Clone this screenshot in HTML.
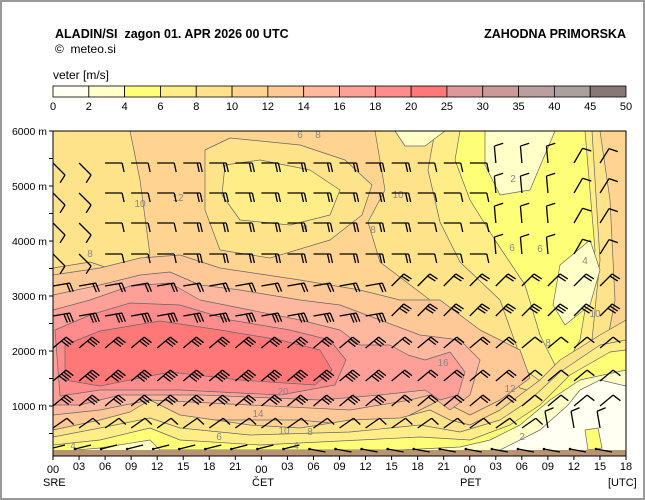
<!DOCTYPE html>
<html><head><meta charset="utf-8"><style>
body{margin:0;background:#fff}
#w{position:relative;width:641px;height:496px;border:2px solid #999;background:#fff;overflow:hidden}
svg{position:absolute;left:-2px;top:-2px}
text{font-family:"Liberation Sans",sans-serif}
</style></head><body><div id="w">
<svg id="s" width="645" height="500" viewBox="0 0 645 500">
<defs><clipPath id="cp"><rect x="53" y="131" width="573" height="325"/></clipPath></defs>
<text x="55" y="38" font-size="12.5" font-weight="bold">ALADIN/SI&#160;&#160;zagon 01. APR 2026 00 UTC</text>
<text x="55" y="53" font-size="12">©&#160;&#160;meteo.si</text>
<text x="626" y="38" font-size="12.5" font-weight="bold" text-anchor="end">ZAHODNA PRIMORSKA</text>
<text x="53" y="79" font-size="12">veter [m/s]</text>
<g id="cb"></g>
<g clip-path="url(#cp)" stroke="#666" stroke-width="0.7" stroke-linejoin="round">
<rect x="53" y="131" width="573" height="325" fill="#ffd490" stroke="none"/>
<polygon fill="#ffe38a" points="53,131 130,131 140,180 150,255 120,272 90,262 53,268"/>
<polygon fill="#ffe38a" points="205,150 230,138 300,145 345,160 372,185 362,215 330,240 270,258 220,250 205,210"/>
<polygon fill="#ffee88" points="225,165 260,160 310,170 340,190 330,215 290,225 240,220 222,195"/>
<polygon fill="#ffe38a" points="375,131 600,131 610,200 615,300 600,380 560,400 520,388 480,340 430,300 380,262 368,222 385,190"/>
<polygon fill="#ffee88" points="435,131 592,131 600,260 590,360 555,392 525,370 500,300 460,262 440,222 428,170"/>
<polygon fill="#ffff77" points="460,131 585,131 595,250 580,340 560,375 540,335 525,285 495,240 470,200 455,160"/>
<polygon fill="#ffffc8" points="395,131 445,131 425,146 405,146"/>
<polygon fill="#ffffc8" points="485,131 555,131 530,190 500,195 485,165"/>
<polygon fill="#ffffc8" points="560,265 590,240 600,270 590,305 565,325 553,305"/>
<polygon fill="#ffc896" points="53,275 100,268 140,258 180,255 220,268 260,274 300,280 360,290 400,300 440,300 480,330 520,350 530,378 500,400 470,415 440,400 400,420 350,425 300,420 200,420 150,410 120,415 80,425 53,430"/>
<polygon fill="#ffb8a0" points="53,295 100,285 140,275 170,272 200,285 240,290 300,300 340,305 380,320 420,335 460,340 480,360 470,395 450,410 430,395 410,400 350,410 250,405 150,400 100,410 53,415"/>
<polygon fill="#ffa098" points="53,310 90,300 130,286 170,283 200,300 250,310 300,320 340,330 360,345 390,345 408,355 425,360 450,352 465,372 458,395 440,400 425,390 380,395 320,400 200,395 120,395 80,405 53,405"/>
<polygon fill="#ff8c8c" points="55,330 90,315 130,303 180,305 230,320 290,330 330,340 346,360 335,385 280,395 180,390 100,390 60,396"/>
<polygon fill="#ff7878" points="65,345 100,331 160,321 220,330 280,340 320,350 332,370 315,385 240,380 170,372 100,386 65,380"/>
<polygon fill="#ffe38a" points="53,430 100,420 130,412 150,400 180,415 250,425 300,428 350,420 400,418 430,410 450,420 470,425 500,410 520,395 540,380 560,360 600,335 626,320 626,456 53,456"/>
<polygon fill="#ffee88" points="53,437 100,428 150,418 180,428 250,435 350,432 420,425 460,432 500,420 530,400 560,372 600,345 626,340 626,456 53,456"/>
<polygon fill="#ffff77" points="53,445 100,440 150,428 180,440 260,445 360,440 420,437 470,440 510,425 540,405 570,375 610,352 626,350 626,456 53,456"/>
<polygon fill="#ffffc8" points="53,452 100,448 150,440 160,450 400,450 460,447 490,440 520,425 550,400 580,380 626,370 626,456 53,456"/>
<polygon fill="#fffff2" points="500,450 540,430 568,405 580,390 600,380 626,386 626,456 500,456"/>
<polygon fill="#ffff77" points="585,430 598,428 602,448 588,450"/>
<rect x="53" y="450" width="573" height="6" fill="#b99474" stroke="none"/>
</g>
<g font-size="10" fill="#888" text-anchor="middle">
<text x="300" y="138">6</text><text x="318" y="138">8</text>
<text x="178" y="201">12</text><text x="140" y="207">10</text>
<text x="305" y="232">8</text><text x="90" y="257">8</text>
<text x="398" y="198">10</text><text x="373" y="233">8</text>
<text x="513" y="182">2</text><text x="540" y="252">6</text>
<text x="512" y="251">6</text><text x="585" y="264">4</text>
<text x="595" y="317">10</text><text x="548" y="346">8</text>
<text x="443" y="366">16</text><text x="510" y="392">12</text>
<text x="283" y="395">20</text><text x="258" y="417">14</text>
<text x="284" y="434">10</text><text x="310" y="435">8</text>
<text x="219" y="440">6</text><text x="296" y="449">4</text>
<text x="522" y="440">2</text><text x="73" y="449">4</text>
</g>
<g id="bars" stroke="#000" stroke-width="1.3" fill="none" clip-path="url(#cp)"></g>
<rect x="53" y="131" width="573" height="325" fill="none" stroke="#000" stroke-width="1"/>
<g id="ax" font-size="11"></g>
</svg></div>
<script>
var NS="http://www.w3.org/2000/svg";
function el(p,t,a,txt){var e=document.createElementNS(NS,t);for(var k in a)e.setAttribute(k,a[k]);if(txt!=null)e.textContent=txt;p.appendChild(e);return e;}
var cols=["#fffff2","#ffffc8","#ffff77","#ffee88","#ffe38a","#ffd490","#ffc896","#ffb8a0","#ffa098","#ff8c8c","#ff7878","#dd9999","#cc9999","#bb9e9e","#aaa0a0","#887777"];
var labs=[0,2,4,6,8,10,12,14,16,18,20,25,30,35,40,45,50];
var cb=document.getElementById("cb"),w=573/16;
for(var i=0;i<16;i++)el(cb,"rect",{x:53+i*w,y:86,width:w,height:11,fill:cols[i],stroke:"#000","stroke-width":0.8});
for(i=0;i<=16;i++)el(cb,"text",{x:53+i*w,y:110,"font-size":11,"text-anchor":"middle"},labs[i]);
var ax=document.getElementById("ax");
var hl=["6000 m","5000 m","4000 m","3000 m","2000 m","1000 m"];
for(i=0;i<=11;i++){var y=131+i*27.5;el(ax,"line",{x1:49,x2:53,y1:y,y2:y,stroke:"#000"});}
for(i=0;i<6;i++)el(ax,"text",{x:47,y:135+i*55,"text-anchor":"end","font-size":10.5},hl[i]);
var tl=["00","03","06","09","12","15","18","21"];
for(i=0;i<=22;i++){var x=53+i*573/22;el(ax,"line",{x1:x,x2:x,y1:456,y2:460,stroke:"#000"});
el(ax,"text",{x:x,y:(i%8==0?473:470),"text-anchor":"middle","font-size":11},tl[i%8]);}
el(ax,"text",{x:43,y:486,"font-size":11},"SRE");
el(ax,"text",{x:252,y:486,"font-size":11},"ČET");
el(ax,"text",{x:460,y:486,"font-size":11},"PET");
el(ax,"text",{x:608,y:486,"font-size":11},"[UTC]");
var g=document.getElementById("bars");
function barb(x,y,ang,n){var r=ang*Math.PI/180,dx=Math.cos(r),dy=Math.sin(r),L=17;
var tx=x+dx*L,ty=y+dy*L;var d="M"+x+" "+y+"L"+tx+" "+ty;
var px=-dy,py=dx;for(var k=0;k<n;k++){var bx=tx-dx*k*3,by=ty-dy*k*3;d+="M"+bx+" "+by+"l"+(px*9+dx*2)+" "+(py*9+dy*2);}
el(g,"path",{d:d});}
var rows=[157,187,217,248,280,310,342,375,400,422];
for(var c=0;c<22;c++){var x0=57+c*26.05;
for(var r=0;r<rows.length;r++){var y=rows[r],ang,n;
 if(r<=3){ang=(c<2?45:(c>=17?-60:0));n=(c>4&&c<14)?2:1; if(c>=17)ang=-100+c*2;}
 else if(r<=5){ang=(c>=13?-45:-10);n=(r==5?3:2);}
 else if(r<=8){ang=-40;n=(c<13?(r==7?4:3):2); if(c>=18)n=1;}
 else{ang=-35;n=1;if(c>=19)ang=-100;}
 if(r<4&&c>=17&&c<=19)ang=-95;
 barb(x0-4,y+6,ang,n);}
 el(g,"path",{d:"M"+(x0-8)+" 449l16 "+(c<10?-4:3)});
 el(g,"circle",{cx:x0-8,cy:449,r:1.3,fill:"#000",stroke:"none"});}
</script>
</body></html>
